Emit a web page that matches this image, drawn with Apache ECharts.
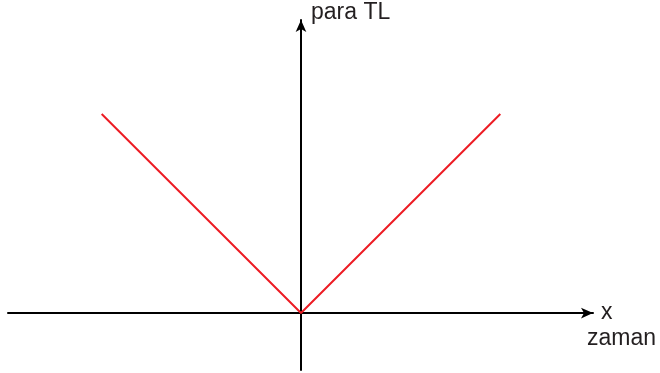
<!DOCTYPE html>
<html><head><meta charset="utf-8">
<script src="https://cdn.jsdelivr.net/npm/echarts@6/dist/echarts.min.js"></script>
<style>html,body{margin:0;padding:0;background:#fff}#c{width:660px;height:373px}</style>
</head><body><div id="c"></div>
<script>
const xValues = [-1, 0, 1];
const yValues = [1, 0, 1];
const yAxisName = 'para TL';
const xAxisName = 'x';
const xAxisSubName = 'zaman';

const chart = echarts.init(document.getElementById('c'), null, {renderer: 'canvas'});
const axisStyle = {show: true, onZero: true, symbol: ['none', 'arrow'], symbolSize: [8, 12], lineStyle: {color: '#000', width: 2}};
const font = '23px "Liberation Sans", Arial, sans-serif';
chart.setOption({
  animation: false,
  grid: {left: 8, right: 67, top: 20, bottom: 3},
  xAxis: {type: 'value', min: -1.47, max: 1.465, axisLine: axisStyle, axisTick: {show: false}, axisLabel: {show: false}, splitLine: {show: false}},
  yAxis: {type: 'value', min: -0.286, max: 1.472, axisLine: axisStyle, axisTick: {show: false}, axisLabel: {show: false}, splitLine: {show: false}},
  graphic: [
    {type: 'text', left: 311, top: 1.5, style: {text: yAxisName, font: font, fill: '#231f20'}},
    {type: 'text', left: 601, top: 301.5, style: {text: xAxisName, font: font, fill: '#231f20'}},
    {type: 'text', left: 587, top: 327.5, style: {text: xAxisSubName, font: font, fill: '#231f20'}}
  ],
  series: [{
    type: 'line',
    data: xValues.map((x, i) => [x, yValues[i]]),
    symbol: 'none',
    lineStyle: {color: '#ed1c24', width: 2}
  }]
});
</script></body></html>
